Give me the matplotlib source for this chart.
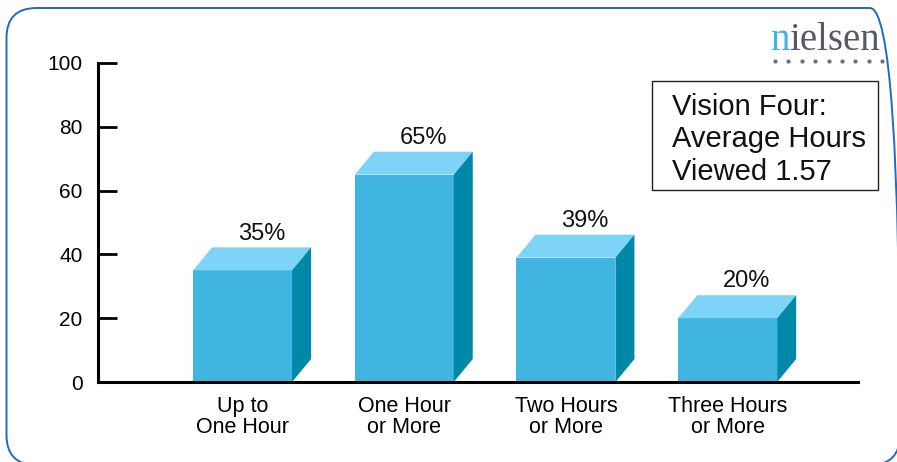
import matplotlib
matplotlib.use('Agg')
import matplotlib.pyplot as plt
from matplotlib.patches import Polygon, FancyBboxPatch, Rectangle
from matplotlib.transforms import IdentityTransform
from matplotlib.lines import Line2D
import numpy as np

categories = ["Up to\nOne Hour", "One Hour\nor More", "Two Hours\nor More", "Three Hours\nor More"]
values = [35, 65, 39, 20]
value_labels = ["35%", "65%", "39%", "20%"]
y_ticks = [0, 20, 40, 60, 80, 100]
note_lines = ["Vision Four:", "Average Hours", "Viewed 1.57"]
logo_first = "n"
logo_rest = "ielsen"

plt.rcParams['font.family'] = ['Liberation Sans', 'DejaVu Sans']

W, H = 897, 462
fig = plt.figure(figsize=(W / 100, H / 100), dpi=100)


def fx(px):
    return px / W


def fy(py):
    return 1 - py / H


# rounded blue frame (pixel coordinates)
frame = FancyBboxPatch((6.5, -3), 900 - 6.5, 454 + 3,
                       boxstyle="round,pad=0,rounding_size=30",
                       transform=IdentityTransform(), fill=False,
                       edgecolor="#1f6bbf", linewidth=1.4)
fig.patches.append(frame)
frame.set_figure(fig)

ax = fig.add_axes([fx(98), fy(382), fx(858) - fx(98), fy(63) - fy(382)])

front_c = "#40b5e0"
top_c = "#7dd4f6"
side_c = "#0088a8"

x = np.arange(len(values))
w = 0.612
dx = 0.1175
dy = 7.2

ax.bar(x, values, width=w, color=front_c, zorder=1)
for xi, v, lab in zip(x, values, value_labels):
    l, r = xi - w / 2, xi + w / 2
    ax.add_patch(Polygon([(l, v), (l + dx, v + dy), (r + dx, v + dy), (r, v)],
                         closed=True, facecolor=top_c, edgecolor="none", zorder=1))
    ax.add_patch(Polygon([(r, 0), (r + dx, dy), (r + dx, v + dy), (r, v)],
                         closed=True, facecolor=side_c, edgecolor="none", zorder=1))
    ax.annotate(lab, (xi + dx, v + dy), xytext=(0, 2), textcoords="offset points",
                ha="center", va="bottom", fontsize=17, color="#111111")

ax.set_xlim(-0.894, 3.806)
ax.set_ylim(0, 100)
ax.set_yticks(y_ticks)
ax.set_xticks(x)
ax.set_xticklabels(categories, fontsize=15.5, linespacing=1.0)
ax.tick_params(axis="y", direction="in", length=14, width=2.0, pad=11, labelsize=15)
ax.tick_params(axis="x", length=0, pad=10)
for s in ["top", "right"]:
    ax.spines[s].set_visible(False)
for s in ["left", "bottom"]:
    ax.spines[s].set_linewidth(2.2)
ax.patch.set_visible(False)

# note box
fig.patches.append(Rectangle((fx(652), fy(190)), fx(878) - fx(652), fy(81) - fy(190),
                             transform=fig.transFigure, fill=False,
                             edgecolor="#222222", linewidth=1.0))
fig.text(fx(672), fy(93), "\n".join(note_lines), ha="left", va="top",
         fontsize=21, linespacing=1.2, color="#111111")

# logo
renderer = fig.canvas.get_renderer()
t1 = fig.text(fx(770), fy(50), logo_first, ha="left", va="baseline", fontsize=28,
              family="Liberation Serif", color="#45b0e5")
bb = t1.get_window_extent(renderer)
fig.text(bb.x1 / W, fy(50), logo_rest, ha="left", va="baseline", fontsize=28,
         family="Liberation Serif", color="#555a66")
dots_x = np.linspace(775, 882, 9)
fig.lines.append(Line2D([fx(d) for d in dots_x], [fy(61)] * 9, transform=fig.transFigure,
                        linestyle="none", marker="o", markersize=3.0,
                        color="#6a6f7a", markeredgewidth=0))

fig.savefig("out.png", dpi=100)
